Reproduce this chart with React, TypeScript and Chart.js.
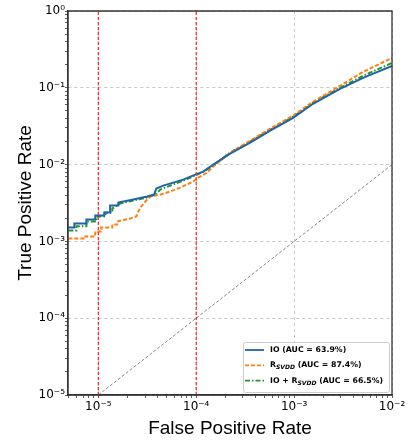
import { useEffect, useRef } from 'react';
import { Chart, registerables } from 'chart.js';

Chart.register(...registerables);

// ---- data ----
const ioFpr = [4.94e-6, 5.69e-6, 5.69e-6, 7.55e-6, 7.55e-6, 9.31e-6, 9.31e-6, 1.15e-5, 1.15e-5, 1.32e-5, 1.32e-5, 1.6e-5, 1.6e-5, 2.28e-5, 3.16e-5, 3.72e-5, 3.91e-5, 4.6e-5, 5.82e-5, 7.36e-5, 9.77e-5, 1.18e-4, 1.49e-4, 2.22e-4, 3.56e-4, 5.69e-4, 9.77e-4, 1.56e-3, 2.94e-3, 5.06e-3, 1.0e-2];
const ioTpr = [1.52e-3, 1.52e-3, 1.71e-3, 1.71e-3, 1.93e-3, 1.93e-3, 2.18e-3, 2.18e-3, 2.38e-3, 2.38e-3, 2.94e-3, 2.94e-3, 3.21e-3, 3.51e-3, 3.84e-3, 4.07e-3, 4.88e-3, 5.33e-3, 5.83e-3, 6.38e-3, 7.41e-3, 8.11e-3, 1.0e-2, 1.39e-2, 1.93e-2, 2.77e-2, 4.07e-2, 6.19e-2, 9.7e-2, 0.135, 0.193];

const svddFpr = [4.94e-6, 7.03e-6, 7.03e-6, 9.31e-6, 9.31e-6, 1.07e-5, 1.07e-5, 1.39e-5, 1.39e-5, 1.56e-5, 1.56e-5, 2.12e-5, 2.44e-5, 2.56e-5, 2.75e-5, 3.09e-5, 3.4e-5, 4.3e-5, 5.43e-5, 6.87e-5, 9.31e-5, 1.05e-4, 1.29e-4, 1.53e-4, 2.22e-4, 3.56e-4, 5.69e-4, 9.77e-4, 1.56e-3, 2.94e-3, 5.06e-3, 1.0e-2];
const svddTpr = [1.09e-3, 1.09e-3, 1.16e-3, 1.16e-3, 1.35e-3, 1.35e-3, 1.52e-3, 1.52e-3, 1.66e-3, 1.66e-3, 1.82e-3, 1.99e-3, 2.11e-3, 2.45e-3, 2.85e-3, 3.41e-3, 3.84e-3, 4.07e-3, 4.46e-3, 5.02e-3, 6.01e-3, 6.78e-3, 7.87e-3, 9.7e-3, 1.43e-2, 2.05e-2, 2.94e-2, 4.33e-2, 6.58e-2, 0.106, 0.161, 0.245];

const bothFpr = [4.94e-6, 5.97e-6, 5.97e-6, 7.55e-6, 7.55e-6, 9.54e-6, 9.54e-6, 1.18e-5, 1.18e-5, 1.39e-5, 1.39e-5, 1.67e-5, 2.28e-5, 3.16e-5, 3.82e-5, 4.3e-5, 5.43e-5, 7.36e-5, 9.77e-5, 1.24e-4, 1.53e-4, 2.22e-4, 3.56e-4, 5.69e-4, 9.77e-4, 1.56e-3, 2.94e-3, 5.06e-3, 1.0e-2];
const bothTpr = [1.39e-3, 1.39e-3, 1.57e-3, 1.57e-3, 1.82e-3, 1.82e-3, 2.11e-3, 2.11e-3, 2.38e-3, 2.38e-3, 2.69e-3, 3.12e-3, 3.41e-3, 3.72e-3, 4.07e-3, 4.73e-3, 5.33e-3, 6.19e-3, 7.2e-3, 8.36e-3, 1.0e-2, 1.43e-2, 1.99e-2, 2.85e-2, 4.2e-2, 6.38e-2, 0.1, 0.143, 0.211];

const seriesMain = ['IO', 'R', 'IO + R'];
const seriesSub = ['', 'SVDD', 'SVDD'];
const seriesAuc = [63.9, 87.4, 66.5];

const thresholdFpr = [1e-5, 1e-4];
const chanceLine = [1e-5, 1e-2];

const xRange = [4.9e-6, 1e-2];
const yRange = [1e-5, 1];

const SUP: Record<string, string> = { '-': '\u207B', '0': '\u2070', '1': '\u00B9', '2': '\u00B2', '3': '\u00B3', '4': '\u2074', '5': '\u2075', '6': '\u2076', '7': '\u2077', '8': '\u2078', '9': '\u2079' };

const colors = ['#1f63a8', '#ff7f0e', '#23962b'];
const dashes: number[][] = [[], [4, 2], [5, 2, 1.5, 2]];

function isPow10(v: number) {
  const e = Math.log10(v);
  return Math.abs(e - Math.round(e)) < 1e-6;
}
function powLabel(v: number) {
  const e = Math.round(Math.log10(v));
  return '10' + String(e).split('').map((c) => SUP[c]).join('');
}
function logTicks(min: number, max: number) {
  const out: { value: number }[] = [];
  const e0 = Math.floor(Math.log10(min));
  const e1 = Math.ceil(Math.log10(max));
  for (let e = e0; e <= e1; e++) {
    for (let m = 1; m < 10; m++) {
      const v = m * Math.pow(10, e);
      if (v >= min * 0.9999 && v <= max * 1.0001) out.push({ value: v });
    }
  }
  return out;
}
function pts(xs: number[], ys: number[]) {
  return xs.map((x, i) => ({ x, y: ys[i] }));
}

const framePlugin = {
  id: 'frame',
  afterDatasetsDraw(chart: any) {
    const { ctx, chartArea: a } = chart;
    ctx.save();
    ctx.strokeStyle = '#333';
    ctx.lineWidth = 1.3;
    ctx.beginPath();
    ctx.moveTo(a.left, a.bottom);
    ctx.lineTo(a.left, a.top);
    ctx.lineTo(a.right, a.top);
    ctx.lineTo(a.right, a.bottom);
    ctx.lineTo(a.left, a.bottom);
    ctx.stroke();
    ctx.restore();
  },
};

const legendPlugin = {
  id: 'innerLegend',
  afterDraw(chart: any) {
    const { ctx, chartArea: a } = chart;
    const w = 146, h = 50;
    const x0 = a.right - w - 3, y0 = a.bottom - h - 3;
    ctx.save();
    ctx.fillStyle = 'rgba(255,255,255,0.85)';
    ctx.strokeStyle = '#cccccc';
    ctx.lineWidth = 1;
    ctx.beginPath();
    ctx.roundRect(x0 + 0.5, y0 + 0.5, w, h, 2);
    ctx.fill();
    ctx.stroke();
    const mainFont = 'bold 7.8px "DejaVu Sans"';
    const subFont = 'italic bold 6px "DejaVu Sans"';
    for (let i = 0; i < 3; i++) {
      const cy = y0 + 8 + i * 15.3;
      ctx.strokeStyle = colors[i];
      ctx.lineWidth = 1.8;
      ctx.setLineDash(dashes[i]);
      ctx.beginPath();
      ctx.moveTo(x0 + 2, cy);
      ctx.lineTo(x0 + 21, cy);
      ctx.stroke();
      ctx.setLineDash([]);
      ctx.fillStyle = '#000';
      ctx.textBaseline = 'middle';
      ctx.textAlign = 'left';
      let tx = x0 + 27;
      ctx.font = mainFont;
      ctx.fillText(seriesMain[i], tx, cy);
      tx += ctx.measureText(seriesMain[i]).width;
      if (seriesSub[i]) {
        ctx.font = subFont;
        ctx.fillText(seriesSub[i], tx, cy + 2.5);
        tx += ctx.measureText(seriesSub[i]).width;
      }
      ctx.font = mainFont;
      ctx.fillText(' (AUC = ' + seriesAuc[i].toFixed(1) + '%)', tx, cy);
    }
    ctx.restore();
  },
};

export default function App() {
  const ref = useRef<HTMLCanvasElement | null>(null);
  useEffect(() => {
    document.body.style.margin = '0';
    if (!ref.current) return;
    const line = (data: any[], color: string, dash: number[], width: number) => ({
      data,
      borderColor: color,
      borderDash: dash,
      borderWidth: width,
      pointRadius: 0,
      fill: false,
      tension: 0,
    });
    const datasets: any[] = [
      ...thresholdFpr.map((t) => line([{ x: t, y: yRange[0] }, { x: t, y: yRange[1] }], '#ff2020', [3, 2], 1.2)),
      line(chanceLine.map((v) => ({ x: v, y: v })), '#666', [3, 2], 0.8),
      line(pts(ioFpr, ioTpr), colors[0], dashes[0], 2),
      line(pts(svddFpr, svddTpr), colors[1], dashes[1], 2),
      line(pts(bothFpr, bothTpr), colors[2], dashes[2], 2),
    ];
    const gridColor = (c: any) => (c.tick && isPow10(c.tick.value) ? 'rgba(0,0,0,0.28)' : 'rgba(0,0,0,0)');
    const chart = new Chart(ref.current, {
      type: 'line',
      data: { datasets },
      plugins: [framePlugin, legendPlugin],
      options: {
        animation: false,
        responsive: false,
        layout: { padding: { left: 0, top: 11, right: 20, bottom: 0 } },
        plugins: { legend: { display: false }, tooltip: { enabled: false } },
        scales: {
          x: {
            type: 'logarithmic',
            min: xRange[0],
            max: xRange[1],
            afterBuildTicks: (s: any) => { s.ticks = logTicks(s.min, s.max); },
            afterFit: (s: any) => { s.height = 47; },
            ticks: {
              autoSkip: false,
              maxRotation: 0,
              padding: 2,
              color: '#000',
              font: { family: 'DejaVu Sans', size: 12 },
              callback: (v: any) => (isPow10(Number(v)) ? powLabel(Number(v)) : ''),
            },
            grid: { color: gridColor, tickColor: '#333', lineWidth: 0.8, tickLength: 3 },
            border: { color: '#333', width: 1.3, dash: [3, 3] },
            title: { display: true, text: 'False Positive Rate', color: '#000', font: { family: 'Liberation Sans', size: 19 }, padding: { top: 0, bottom: 2 } },
          },
          y: {
            type: 'logarithmic',
            min: yRange[0],
            max: yRange[1],
            afterBuildTicks: (s: any) => { s.ticks = logTicks(s.min, s.max); },
            afterFit: (s: any) => { s.width = 68; },
            ticks: {
              autoSkip: false,
              padding: 0,
              color: '#000',
              font: { family: 'DejaVu Sans', size: 12 },
              callback: (v: any) => (isPow10(Number(v)) ? powLabel(Number(v)) : ''),
            },
            grid: { color: gridColor, tickColor: '#333', lineWidth: 0.8, tickLength: 3 },
            border: { color: '#333', width: 1.3, dash: [3, 3] },
            title: { display: true, text: 'True Positive Rate', color: '#000', font: { family: 'Liberation Sans', size: 19 }, padding: { top: 14, bottom: 0 } },
          },
        },
      } as any,
    });
    return () => chart.destroy();
  }, []);
  return (
    <div style={{ width: 412, height: 442 }}>
      <canvas ref={ref} width={412} height={442} style={{ display: 'block' }} />
    </div>
  );
}
